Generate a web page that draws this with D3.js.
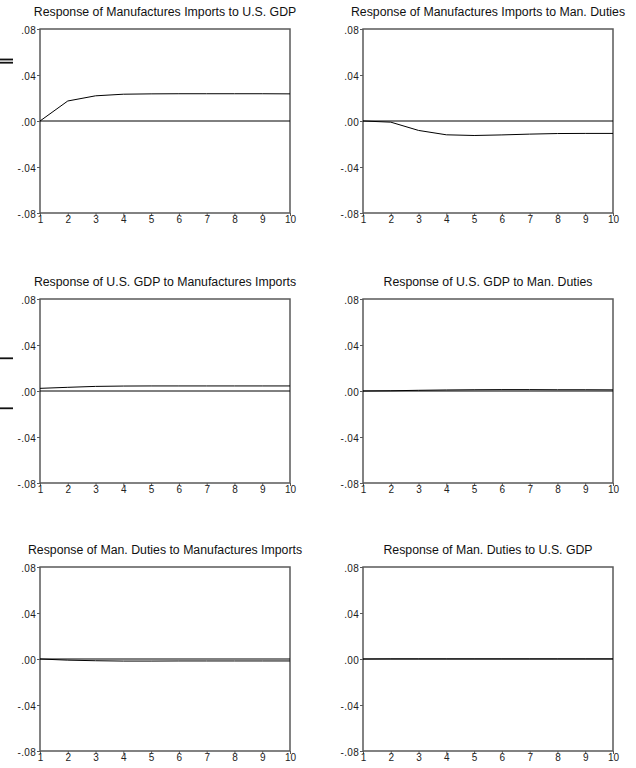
<!DOCTYPE html>
<html>
<head>
<meta charset="utf-8">
<script src="https://cdn.jsdelivr.net/npm/d3@7"></script>
<style>
  body { margin: 0; background: #fff; }
  svg { display: block; }
</style>
</head>
<body>
<div id="chart"></div>
<script>
// impulse responses, 10 periods
const periods = [1, 2, 3, 4, 5, 6, 7, 8, 9, 10];

const titles = [
    'Response of Manufactures Imports to U.S. GDP',
    'Response of Manufactures Imports to Man. Duties',
    'Response of U.S. GDP to Manufactures Imports',
    'Response of U.S. GDP to Man. Duties',
    'Response of Man. Duties to Manufactures Imports',
    'Response of Man. Duties to U.S. GDP'
];

const importsToGdp = [0.0000, 0.0174, 0.0219, 0.0233, 0.0236, 0.0237, 0.0237, 0.0237, 0.0237, 0.0236];
const importsToDuties = [0.0000, -0.0010, -0.0082, -0.0120, -0.0126, -0.0121, -0.0114, -0.0109, -0.0108, -0.0108];
const gdpToImports = [0.0023, 0.0032, 0.0040, 0.0043, 0.0044, 0.0044, 0.0044, 0.0044, 0.0044, 0.0044];
const gdpToDuties = [0.0000, 0.0002, 0.0006, 0.0009, 0.0011, 0.0012, 0.0012, 0.0011, 0.0011, 0.0010];
const dutiesToImports = [0.0000, -0.0010, -0.0015, -0.0018, -0.0018, -0.0017, -0.0017, -0.0017, -0.0017, -0.0017];
const dutiesToGdp = [0.0000, 0.0001, 0.0001, 0.0001, 0.0001, 0.0001, 0.0001, 0.0001, 0.0001, 0.0001];

const series = [importsToGdp, importsToDuties, gdpToImports, gdpToDuties, dutiesToImports, dutiesToGdp];

const yTicks = [-0.08, -0.04, 0, 0.04, 0.08];
const yTickLabels = ['-.08', '-.04', '.00', '.04', '.08'];

const fontFamily = 'Arial, "Liberation Sans", sans-serif',
    frameColor = '#595959',
    width = 636,
    height = 768;

const svg = d3.select('#chart')
    .append('svg')
    .attr('width', width)
    .attr('height', height);

// panel grid
const colLeft = [40, 363],
    rowTop = [29, 299, 567],
    plotW = 250,
    plotH = 184;

const x = d3.scaleLinear().domain([1, 10]).range([0, plotW]);
const y = d3.scaleLinear().domain([-0.08, 0.08]).range([plotH, 0]);

const line = d3.line()
    .x((d, i) => x(periods[i]))
    .y(d => y(d));

series.forEach((values, k) => {
    const left = colLeft[k % 2],
        top = rowTop[Math.floor(k / 2)];

    const g = svg.append('g')
        .attr('transform', 'translate(' + left + ',' + top + ')');

    g.append('text')
        .attr('x', plotW / 2)
        .attr('y', -13)
        .attr('text-anchor', 'middle')
        .style('font-family', fontFamily)
        .style('font-size', '12.3px')
        .attr('fill', '#111')
        .text(titles[k]);

    // y axis
    const yAxis = g.append('g')
        .attr('font-size', 10)
        .call(d3.axisLeft(y)
            .tickValues(yTicks)
            .tickFormat((d, i) => yTickLabels[i])
            .tickSize(3)
            .tickPadding(1));
    yAxis.attr('font-size', 10).attr('font-family', fontFamily);
    yAxis.select('.domain').remove();
    yAxis.selectAll('text')
        .attr('dy', '0.4em')
        .style('letter-spacing', '0.3px')
        .attr('fill', '#222');
    yAxis.selectAll('line').attr('stroke', frameColor);

    // x axis
    const xAxis = g.append('g')
        .attr('transform', 'translate(0,' + plotH + ')')
        .call(d3.axisBottom(x)
            .tickValues(periods)
            .tickFormat(d3.format('d'))
            .tickSize(3)
            .tickPadding(0));
    xAxis.attr('font-size', 10).attr('font-family', fontFamily);
    xAxis.select('.domain').remove();
    xAxis.selectAll('text')
        .attr('fill', '#222');
    xAxis.selectAll('line').attr('stroke', frameColor);

    // frame
    g.append('rect')
        .attr('x', 0)
        .attr('y', 0)
        .attr('width', plotW)
        .attr('height', plotH)
        .attr('fill', 'none')
        .attr('stroke', frameColor)
        .attr('stroke-width', 1.5);

    // zero line
    g.append('line')
        .attr('x1', x(1))
        .attr('x2', x(10))
        .attr('y1', y(0))
        .attr('y2', y(0))
        .attr('stroke', '#000')
        .attr('stroke-width', 1);

    g.append('path')
        .datum(values)
        .attr('d', line)
        .attr('fill', 'none')
        .attr('stroke', '#000')
        .attr('stroke-width', 1);
});

// stray marks cut off at the left edge of the page
const stray = svg.append('g').attr('stroke', '#111').attr('stroke-width', 1.8);
[59.5, 62.7, 358.3, 408.3].forEach(v => {
    stray.append('line')
        .attr('x1', 0).attr('x2', 13)
        .attr('y1', v).attr('y2', v);
});
</script>
</body>
</html>
